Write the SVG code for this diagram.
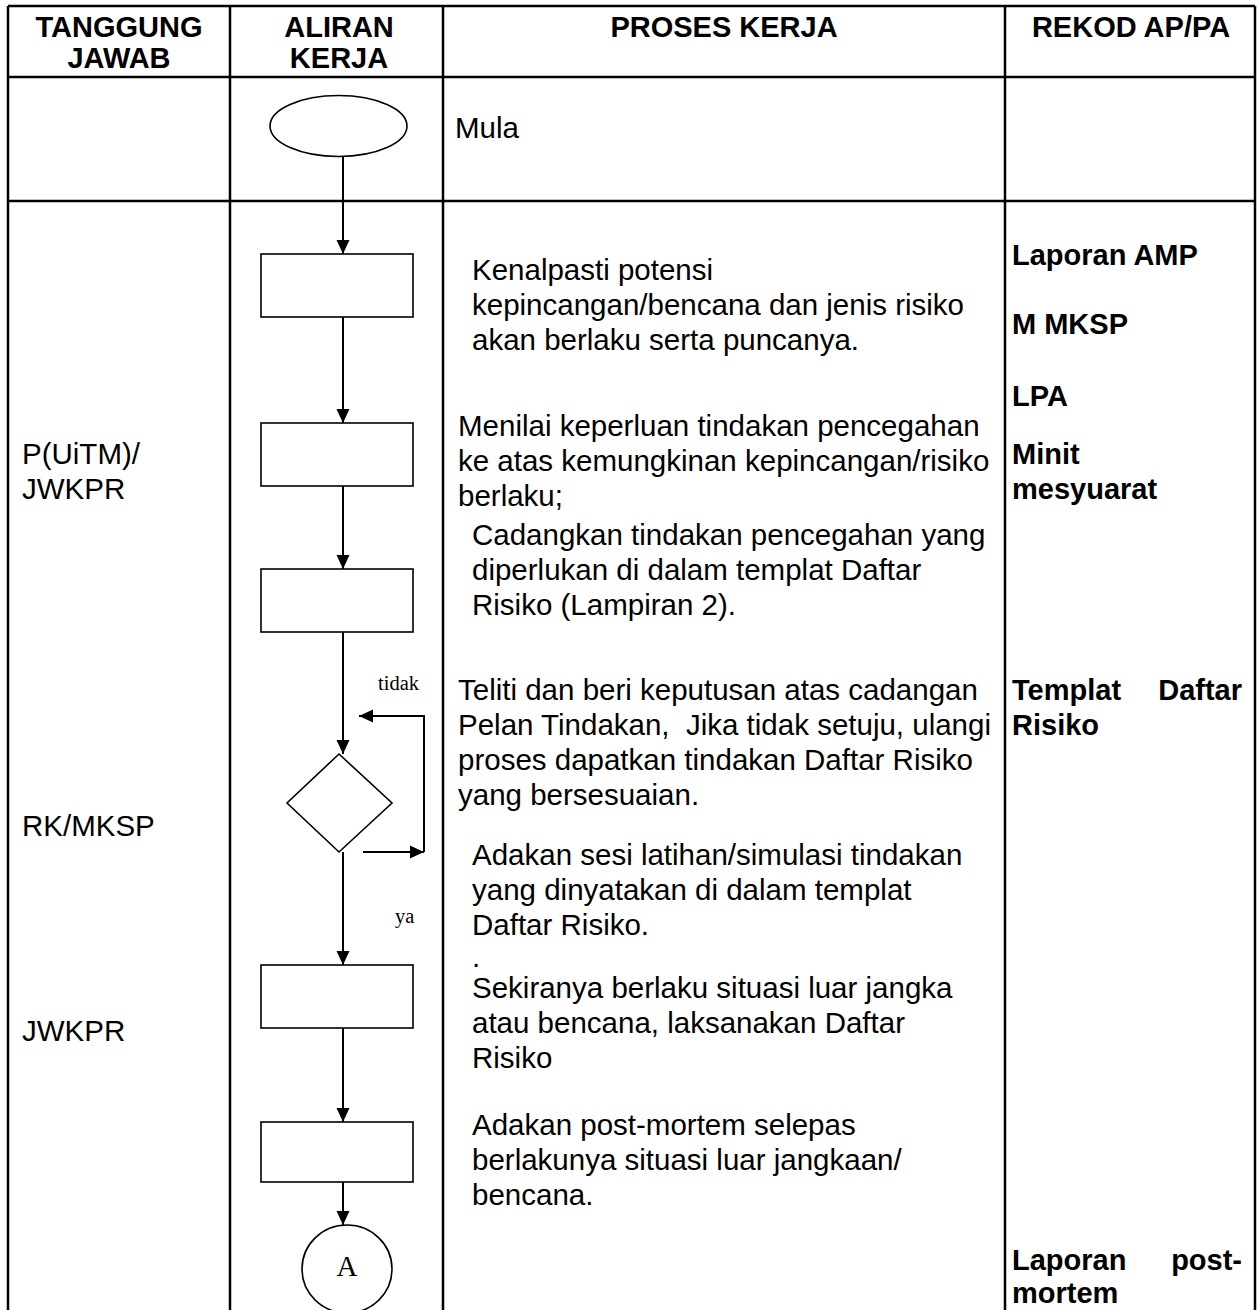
<svg xmlns="http://www.w3.org/2000/svg" width="1259" height="1310" viewBox="0 0 1259 1310">
<defs>
<marker id="ah" markerWidth="14" markerHeight="14" refX="14" refY="7" orient="auto" markerUnits="userSpaceOnUse">
<path d="M0,0.5 L14,7 L0,13.5 Z" fill="#000"/>
</marker>
<style>
.grid{stroke:#000;stroke-width:2.5;fill:none}
.shape{stroke:#000;stroke-width:1.6;fill:#fff}
.conn{stroke:#000;stroke-width:2;fill:none}
.hd{font-family:"Liberation Sans",Arial,sans-serif;font-weight:bold;font-size:29px;fill:#000}
.tx{font-family:"Liberation Sans",Arial,sans-serif;font-size:29.5px;fill:#000}
.bd{font-family:"Liberation Sans",Arial,sans-serif;font-weight:bold;font-size:29px;fill:#000}
.sm{font-family:"Liberation Serif","Times New Roman",serif;font-size:20.5px;fill:#000}
</style>
</defs>
<rect width="1259" height="1310" fill="#fff"/>
<g id="table">
<path class="grid" d="M8,6 H1255 M8,6 V1312 M230,6 V1312 M443,6 V1312 M1005,6 V1312 M1255,6 V1312 M8,77 H1255 M8,201 H1255"/>
</g>
<g id="headers">
<text class="hd" text-anchor="middle"><tspan x="119" y="37">TANGGUNG</tspan><tspan x="119" y="68">JAWAB</tspan></text>
<text class="hd" text-anchor="middle"><tspan x="339" y="37">ALIRAN</tspan><tspan x="339" y="68">KERJA</tspan></text>
<text class="hd" x="724" y="37" text-anchor="middle">PROSES KERJA</text>
<text class="hd" x="1131" y="37" text-anchor="middle">REKOD AP/PA</text>
</g>
<g id="connectors">
<line class="conn" x1="343" y1="156" x2="343" y2="254" marker-end="url(#ah)"/>
<line class="conn" x1="343" y1="317" x2="343" y2="423" marker-end="url(#ah)"/>
<line class="conn" x1="343" y1="486" x2="343" y2="569" marker-end="url(#ah)"/>
<line class="conn" x1="343" y1="632" x2="343" y2="754" marker-end="url(#ah)"/>
<line class="conn" x1="363" y1="852" x2="424" y2="852" marker-end="url(#ah)"/>
<polyline class="conn" points="424,852 424,716 359,716" marker-end="url(#ah)"/>
<line class="conn" x1="343" y1="852" x2="343" y2="965" marker-end="url(#ah)"/>
<line class="conn" x1="343" y1="1028" x2="343" y2="1122" marker-end="url(#ah)"/>
<line class="conn" x1="343" y1="1182" x2="343" y2="1225" marker-end="url(#ah)"/>
<text class="sm" x="378" y="690">tidak</text>
<text class="sm" x="395" y="923">ya</text>
</g>
<g id="n-start">
<ellipse class="shape" cx="338.5" cy="126" rx="68.5" ry="30.5"/>
<text class="tx" x="455" y="138">Mula</text>
</g>
<g id="n-1">
<rect class="shape" x="261" y="254" width="152" height="63"/>
<text class="tx"><tspan x="472" y="280">Kenalpasti potensi</tspan><tspan x="472" y="315">kepincangan/bencana dan jenis risiko</tspan><tspan x="472" y="350">akan berlaku serta puncanya.</tspan></text>
</g>
<g id="n-2">
<rect class="shape" x="261" y="423" width="152" height="63"/>
<text class="tx"><tspan x="458" y="436">Menilai keperluan tindakan pencegahan</tspan><tspan x="458" y="471">ke atas kemungkinan kepincangan/risiko</tspan><tspan x="458" y="506">berlaku;</tspan></text>
</g>
<g id="n-3">
<rect class="shape" x="261" y="569" width="152" height="63"/>
<text class="tx"><tspan x="472" y="545">Cadangkan tindakan pencegahan yang</tspan><tspan x="472" y="580">diperlukan di dalam templat Daftar</tspan><tspan x="472" y="615">Risiko (Lampiran 2).</tspan></text>
</g>
<g id="n-decision">
<polygon class="shape" points="339,754 392,803 339,852 287,803"/>
<text class="tx"><tspan x="458" y="700">Teliti dan beri keputusan atas cadangan</tspan><tspan x="458" y="735">Pelan Tindakan,&#160; Jika tidak setuju, ulangi</tspan><tspan x="458" y="770">proses dapatkan tindakan Daftar Risiko</tspan><tspan x="458" y="805">yang bersesuaian.</tspan></text>
</g>
<g id="n-4">
<rect class="shape" x="261" y="965" width="152" height="63"/>
<text class="tx"><tspan x="472" y="865">Adakan sesi latihan/simulasi tindakan</tspan><tspan x="472" y="900">yang dinyatakan di dalam templat</tspan><tspan x="472" y="935">Daftar Risiko.</tspan></text>
<text class="tx" x="472" y="967">.</text>
<text class="tx"><tspan x="472" y="998">Sekiranya berlaku situasi luar jangka</tspan><tspan x="472" y="1033">atau bencana, laksanakan Daftar</tspan><tspan x="472" y="1068">Risiko</tspan></text>
</g>
<g id="n-5">
<rect class="shape" x="261" y="1122" width="152" height="60"/>
<text class="tx"><tspan x="472" y="1135">Adakan post-mortem selepas</tspan><tspan x="472" y="1170">berlakunya situasi luar jangkaan/</tspan><tspan x="472" y="1205">bencana.</tspan></text>
</g>
<g id="n-A">
<ellipse class="shape" cx="347" cy="1269" rx="45" ry="44"/>
<text x="347" y="1276" text-anchor="middle" style="font-family:'Liberation Serif','Times New Roman',serif;font-size:29px">A</text>
</g>
<g id="tanggung">
<text class="tx"><tspan x="22" y="464">P(UiTM)/</tspan><tspan x="22" y="499">JWKPR</tspan></text>
<text class="tx" x="22" y="836">RK/MKSP</text>
<text class="tx" x="22" y="1041">JWKPR</text>
</g>
<g id="rekod">
<text class="bd" x="1012" y="265">Laporan AMP</text>
<text class="bd" x="1012" y="334">M MKSP</text>
<text class="bd" x="1012" y="406">LPA</text>
<text class="bd"><tspan x="1012" y="464">Minit</tspan><tspan x="1012" y="499">mesyuarat</tspan></text>
<text class="bd"><tspan x="1012" y="700">Templat</tspan><tspan x="1242" y="700" text-anchor="end">Daftar</tspan><tspan x="1012" y="735">Risiko</tspan></text>
<text class="bd"><tspan x="1012" y="1270">Laporan</tspan><tspan x="1242" y="1270" text-anchor="end">post-</tspan><tspan x="1012" y="1303">mortem</tspan></text>
</g>
</svg>
